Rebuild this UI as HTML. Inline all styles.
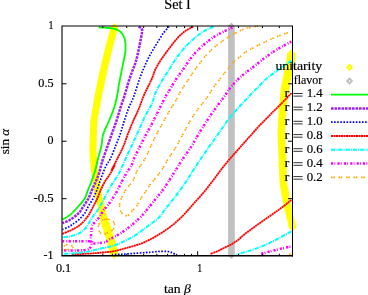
<!DOCTYPE html>
<html><head><meta charset="utf-8"><title>Set I</title>
<style>html,body{margin:0;padding:0;background:#fff}body{width:368px;height:295px;overflow:hidden}</style></head>
<body>
<svg width="368" height="295" viewBox="0 0 368 295" style="display:block;font-family:'Liberation Serif',serif;will-change:transform">
<style>text{stroke:#000;stroke-width:0.18px}</style>
<rect width="368" height="295" fill="#fff"/>
<path d="M114.6 23.2L118.4 27.0L118.1 28.0L117.8 29.0L117.6 30.0L117.3 31.0L117.0 32.0L116.7 33.0L116.5 34.0L116.2 35.0L115.9 36.0L115.6 37.0L115.4 38.0L115.1 39.0L114.8 40.0L114.5 41.0L114.3 42.0L114.0 43.0L113.7 44.0L113.4 45.0L113.2 46.0L112.9 47.0L112.7 48.0L112.4 49.0L112.2 50.0L112.0 51.0L111.7 52.0L111.5 53.0L111.2 54.0L111.0 55.0L110.8 56.0L110.5 57.0L110.3 58.0L110.1 59.0L109.8 60.0L109.6 61.0L109.4 62.0L109.1 63.0L108.9 64.0L108.7 65.0L108.4 66.0L108.2 67.0L107.9 68.0L107.7 69.0L107.5 70.0L107.2 71.0L107.0 72.0L106.8 73.0L106.6 74.0L106.4 75.0L106.2 76.0L106.0 77.0L105.8 78.0L105.5 79.0L105.3 80.0L105.1 81.0L104.9 82.0L104.7 83.0L104.5 84.0L104.3 85.0L104.1 86.0L103.9 87.0L103.7 88.0L103.5 89.0L103.2 90.0L103.0 91.0L102.8 92.0L102.6 93.0L102.4 94.0L102.1 95.0L101.9 96.0L101.7 97.0L101.5 98.0L101.4 99.0L101.2 100.0L101.0 101.0L100.8 102.0L100.6 103.0L100.4 104.0L100.2 105.0L100.0 106.0L99.9 107.0L99.7 108.0L99.5 109.0L99.3 110.0L99.1 111.0L98.9 112.0L98.7 113.0L98.5 114.0L98.4 115.0L98.2 116.0L98.0 117.0L97.8 118.0L97.7 119.0L97.5 120.0L97.3 121.0L97.3 122.0L97.2 123.1L97.2 124.1L97.2 125.1L97.1 126.2L97.1 127.2L97.1 128.2L97.0 129.3L97.0 130.3L97.0 131.3L97.0 132.3L96.9 133.4L96.9 134.4L96.9 135.4L96.8 136.5L96.8 137.5L96.8 138.5L96.7 139.6L96.7 140.6L96.7 141.6L96.6 142.7L96.6 143.7L96.6 144.7L96.6 145.8L96.5 146.8L96.5 147.9L96.5 148.9L96.5 149.9L96.4 151.0L96.4 152.0L96.5 153.0L96.6 154.0L96.6 155.0L96.7 156.0L96.8 157.0L96.9 158.0L96.9 159.0L97.0 160.0L97.1 161.0L97.2 162.0L97.3 163.0L97.3 164.0L97.4 165.0L97.5 166.0L97.6 167.0L97.6 168.0L97.7 169.0L97.8 170.0L98.0 171.1L98.2 172.1L98.4 173.2L98.6 174.2L98.8 175.3L99.0 176.3L99.2 177.4L99.4 178.4L99.6 179.5L99.8 180.5L100.0 181.6L100.1 182.6L100.2 183.7L100.3 184.7L100.4 185.8L100.5 186.8L100.6 187.8L100.7 188.9L100.8 189.9L101.0 190.9L101.2 192.0L101.4 193.0L101.7 194.1L101.9 195.1L102.1 196.1L102.3 197.2L102.5 198.2L102.8 199.2L103.0 200.3L103.3 201.3L103.6 202.3L103.9 203.4L104.1 204.4L104.4 205.5L104.8 206.5L105.0 207.6L105.2 208.6L105.5 209.7L105.7 210.8L106.0 211.9L106.2 212.9L106.5 214.0L106.8 215.0L107.1 215.9L107.5 216.9L107.8 217.9L108.1 218.8L108.4 219.8L108.8 220.8L109.1 221.7L109.4 222.7L109.8 223.7L110.1 224.6L110.4 225.6L110.7 226.6L111.0 227.6L111.3 228.5L111.6 229.5L111.9 230.5L112.2 231.5L112.5 232.4L112.8 233.4L113.2 234.4L113.5 235.4L113.8 236.3L114.1 237.3L114.4 238.3L114.7 239.3L115.0 240.2L115.3 241.2L115.6 242.2L115.8 243.2L116.1 244.2L116.3 245.3L116.6 246.3L116.8 247.3L117.0 248.3L117.3 249.4L117.5 250.4L117.8 251.4L118.0 252.4L118.3 253.5L118.5 254.5L114.2 258.8L109.9 254.5L109.7 253.5L109.4 252.4L109.2 251.4L108.9 250.4L108.7 249.4L108.5 248.3L108.2 247.3L108.0 246.3L107.7 245.3L107.5 244.2L107.2 243.2L107.0 242.2L106.7 241.2L106.4 240.2L106.1 239.3L105.8 238.3L105.5 237.3L105.2 236.3L104.9 235.4L104.6 234.4L104.2 233.4L103.9 232.4L103.6 231.5L103.3 230.5L103.0 229.5L102.7 228.5L102.4 227.6L102.1 226.6L101.8 225.6L101.5 224.6L101.3 223.7L101.0 222.7L100.8 221.7L100.5 220.8L100.3 219.8L100.0 218.8L99.8 217.9L99.5 216.9L99.2 215.9L99.0 215.0L98.7 214.0L98.6 212.9L98.4 211.9L98.3 210.8L98.1 209.7L97.9 208.6L97.8 207.6L97.6 206.5L97.4 205.5L97.1 204.4L96.9 203.4L96.6 202.3L96.3 201.3L96.0 200.3L95.8 199.2L95.5 198.2L95.3 197.2L95.1 196.1L94.9 195.1L94.7 194.1L94.4 193.0L94.2 192.0L94.0 190.9L93.8 189.9L93.7 188.9L93.6 187.8L93.5 186.8L93.4 185.8L93.3 184.7L93.2 183.7L93.1 182.6L93.0 181.6L92.8 180.5L92.6 179.5L92.4 178.4L92.2 177.4L92.0 176.3L91.8 175.3L91.6 174.2L91.4 173.2L91.2 172.1L91.0 171.1L90.8 170.0L90.7 169.0L90.6 168.0L90.6 167.0L90.5 166.0L90.4 165.0L90.3 164.0L90.3 163.0L90.2 162.0L90.1 161.0L90.0 160.0L89.9 159.0L89.9 158.0L89.8 157.0L89.7 156.0L89.6 155.0L89.6 154.0L89.5 153.0L89.4 152.0L89.4 151.0L89.5 149.9L89.5 148.9L89.5 147.9L89.5 146.8L89.6 145.8L89.6 144.7L89.6 143.7L89.6 142.7L89.7 141.6L89.7 140.6L89.7 139.6L89.8 138.5L89.8 137.5L89.8 136.5L89.9 135.4L89.9 134.4L89.9 133.4L90.0 132.3L90.0 131.3L90.0 130.3L90.0 129.3L90.1 128.2L90.1 127.2L90.1 126.2L90.2 125.1L90.2 124.1L90.2 123.1L90.3 122.0L90.3 121.0L90.5 120.0L90.7 119.0L90.8 118.0L91.0 117.0L91.2 116.0L91.4 115.0L91.5 114.0L91.7 113.0L91.8 112.0L92.0 111.0L92.2 110.0L92.3 109.0L92.5 108.0L92.7 107.0L92.8 106.0L93.0 105.0L93.2 104.0L93.3 103.0L93.5 102.0L93.7 101.0L93.8 100.0L94.0 99.0L94.1 98.0L94.3 97.0L94.5 96.0L94.7 95.0L94.9 94.0L95.1 93.0L95.3 92.0L95.5 91.0L95.7 90.0L95.9 89.0L96.1 88.0L96.3 87.0L96.5 86.0L96.7 85.0L96.9 84.0L97.1 83.0L97.3 82.0L97.5 81.0L97.7 80.0L97.9 79.0L98.2 78.0L98.4 77.0L98.6 76.0L98.8 75.0L99.0 74.0L99.2 73.0L99.4 72.0L99.6 71.0L99.9 70.0L100.1 69.0L100.3 68.0L100.6 67.0L100.8 66.0L101.1 65.0L101.3 64.0L101.5 63.0L101.8 62.0L102.0 61.0L102.2 60.0L102.5 59.0L102.7 58.0L102.9 57.0L103.2 56.0L103.4 55.0L103.6 54.0L103.9 53.0L104.1 52.0L104.4 51.0L104.6 50.0L104.8 49.0L105.1 48.0L105.3 47.0L105.6 46.0L105.8 45.0L106.1 44.0L106.4 43.0L106.7 42.0L107.0 41.0L107.2 40.0L107.5 39.0L107.8 38.0L108.0 37.0L108.3 36.0L108.6 35.0L108.9 34.0L109.1 33.0L109.4 32.0L109.7 31.0L110.0 30.0L110.2 29.0L110.5 28.0L110.8 27.0Z" fill="#ffff00"/>
<path d="M291.4 49.2L295.7 53.5L295.6 54.5L295.5 55.5L295.4 56.5L295.3 57.6L295.2 58.6L295.1 59.6L294.9 60.6L294.7 61.7L294.5 62.7L294.3 63.7L294.1 64.8L293.9 65.8L293.6 66.8L293.4 67.9L293.2 68.9L293.0 69.9L292.8 71.0L292.6 72.0L292.4 73.1L292.2 74.1L292.0 75.2L291.8 76.2L291.6 77.3L291.4 78.3L291.1 79.4L290.9 80.5L290.7 81.5L290.5 82.6L290.3 83.6L290.1 84.7L289.9 85.7L289.8 86.8L289.6 87.8L289.5 88.8L289.3 89.8L289.1 90.9L288.9 91.9L288.7 92.9L288.5 93.9L288.3 95.0L288.1 96.0L287.9 97.0L287.8 98.1L287.6 99.1L287.4 100.2L287.3 101.2L287.2 102.2L287.0 103.3L286.9 104.3L286.8 105.4L286.7 106.4L286.5 107.5L286.4 108.5L286.3 109.5L286.3 110.6L286.2 111.6L286.1 112.7L286.1 113.7L286.0 114.8L285.9 115.8L285.9 116.8L285.8 117.9L285.7 118.9L285.7 120.0L285.6 121.0L285.6 122.0L285.5 123.1L285.5 124.2L285.4 125.2L285.4 126.2L285.4 127.3L285.3 128.3L285.3 129.4L285.2 130.4L285.2 131.5L285.1 132.5L285.1 133.6L285.1 134.6L285.2 135.7L285.2 136.7L285.3 137.7L285.3 138.8L285.4 139.8L285.4 140.8L285.4 141.9L285.5 142.9L285.5 143.9L285.6 145.0L285.6 146.0L285.7 147.1L285.7 148.1L285.8 149.2L285.9 150.2L285.9 151.3L286.0 152.3L286.1 153.4L286.1 154.5L286.2 155.5L286.3 156.6L286.3 157.6L286.4 158.7L286.4 159.7L286.4 160.8L286.5 161.8L286.5 162.8L286.5 163.8L286.5 164.9L286.5 165.9L286.5 166.9L286.6 167.9L286.6 169.0L286.6 170.0L286.6 171.0L286.7 172.1L286.7 173.1L286.8 174.2L286.8 175.2L286.9 176.2L286.9 177.3L286.9 178.3L287.0 179.4L287.0 180.4L287.1 181.5L287.1 182.5L287.3 183.5L287.4 184.6L287.6 185.6L287.8 186.7L288.0 187.7L288.2 188.8L288.3 189.8L288.5 190.8L288.7 191.9L288.8 192.9L289.0 194.0L289.2 195.0L289.4 196.1L289.6 197.1L289.8 198.2L290.0 199.2L290.2 200.2L290.4 201.3L290.7 202.3L290.9 203.4L291.1 204.4L291.3 205.5L291.5 206.5L291.7 207.6L291.9 208.6L292.2 209.7L292.4 210.7L292.7 211.7L292.9 212.8L293.2 213.8L293.4 214.8L293.7 215.9L293.9 216.9L294.2 217.9L294.4 219.0L294.7 220.0L294.9 221.1L295.2 222.1L295.4 223.2L295.6 224.3L295.8 225.4L296.1 226.4L296.3 227.5L292.5 231.3L288.7 227.5L288.5 226.4L288.2 225.4L288.0 224.3L287.8 223.2L287.6 222.1L287.3 221.1L287.1 220.0L286.8 219.0L286.6 217.9L286.3 216.9L286.1 215.9L285.8 214.8L285.6 213.8L285.3 212.8L285.1 211.7L284.8 210.7L284.6 209.7L284.3 208.6L284.1 207.6L283.9 206.5L283.7 205.5L283.5 204.4L283.3 203.4L283.1 202.3L282.8 201.3L282.6 200.2L282.4 199.2L282.2 198.2L282.0 197.1L281.8 196.1L281.6 195.0L281.4 194.0L281.2 192.9L281.1 191.9L280.9 190.8L280.7 189.8L280.6 188.8L280.4 187.7L280.2 186.7L280.0 185.6L279.8 184.6L279.7 183.5L279.5 182.5L279.5 181.5L279.4 180.4L279.4 179.4L279.3 178.3L279.3 177.3L279.2 176.2L279.2 175.2L279.2 174.2L279.1 173.1L279.1 172.1L279.0 171.0L279.0 170.0L279.0 169.0L279.0 167.9L278.9 166.9L278.9 165.9L278.9 164.9L278.9 163.8L278.9 162.8L278.9 161.8L278.8 160.8L278.8 159.7L278.8 158.7L278.7 157.6L278.7 156.6L278.6 155.5L278.5 154.5L278.5 153.4L278.4 152.3L278.3 151.3L278.3 150.2L278.2 149.2L278.1 148.1L278.1 147.1L278.0 146.0L278.0 145.0L277.9 143.9L277.9 142.9L277.8 141.9L277.8 140.8L277.8 139.8L277.7 138.8L277.7 137.7L277.6 136.7L277.6 135.7L277.5 134.6L277.5 133.6L277.5 132.5L277.6 131.5L277.6 130.4L277.7 129.4L277.7 128.3L277.8 127.3L277.8 126.2L277.8 125.2L277.9 124.2L277.9 123.1L278.0 122.0L278.0 121.0L278.1 120.0L278.1 118.9L278.2 117.9L278.3 116.8L278.3 115.8L278.4 114.8L278.5 113.7L278.5 112.7L278.6 111.6L278.7 110.6L278.7 109.5L278.8 108.5L278.9 107.5L279.1 106.4L279.2 105.4L279.3 104.3L279.4 103.3L279.6 102.2L279.7 101.2L279.8 100.2L279.9 99.1L280.0 98.1L280.0 97.0L280.1 96.0L280.2 95.0L280.3 93.9L280.4 92.9L280.5 91.9L280.6 90.9L280.7 89.8L280.9 88.8L281.0 87.8L281.2 86.8L281.3 85.7L281.5 84.7L281.7 83.6L281.9 82.6L282.1 81.5L282.3 80.5L282.5 79.4L282.8 78.3L283.0 77.3L283.2 76.2L283.4 75.2L283.6 74.1L283.8 73.1L284.0 72.0L284.2 71.0L284.4 69.9L284.6 68.9L284.8 67.9L285.0 66.8L285.2 65.8L285.5 64.8L285.7 63.7L285.9 62.7L286.1 61.7L286.3 60.6L286.5 59.6L286.6 58.6L286.7 57.6L286.8 56.5L286.9 55.5L287.0 54.5L287.1 53.5Z" fill="#ffff00"/>
<path d="M231.45 22.6L234.8 26V255.5L231.45 259L228.1 255.5V26Z" fill="#c0c0c0"/>
<path d="M98.6 27.3C99.5 27.4 102.3 27.5 104.0 27.6C105.7 27.7 106.8 27.7 108.8 28.0C110.8 28.3 114.1 28.6 116.2 29.3C118.3 30.0 119.8 30.9 121.2 32.4C122.6 33.9 123.7 35.8 124.4 38.0C125.1 40.2 125.5 43.0 125.6 45.5C125.7 48.0 125.5 50.6 125.2 53.0C124.9 55.4 124.5 56.4 123.9 59.6C123.3 62.8 122.2 67.9 121.4 72.1C120.6 76.3 119.6 80.7 118.9 84.7C118.2 88.7 117.9 92.0 117.1 96.0C116.3 100.0 115.3 104.3 113.9 108.5C112.5 112.7 110.7 116.6 108.9 121.0C107.1 125.4 104.3 130.6 103.1 134.8C101.8 139.0 102.2 142.0 101.4 146.0C100.6 150.0 99.0 154.7 98.0 158.7C97.0 162.7 96.4 166.2 95.3 170.0C94.2 173.8 92.7 178.3 91.5 181.6C90.3 184.9 89.1 187.1 88.0 189.9C86.9 192.7 86.6 195.3 84.9 198.2C83.2 201.0 80.3 204.2 77.8 207.0C75.3 209.8 72.5 212.8 70.0 214.9C67.5 217.0 63.8 218.8 62.5 219.6" fill="none" stroke="#00ff00" stroke-width="1.8"/>
<path d="M138.7 26.5C139.2 27.0 141.6 27.8 142.0 29.5C142.4 31.2 141.8 33.6 141.2 37.0C140.6 40.4 139.6 45.4 138.7 49.6C137.8 53.8 136.8 58.4 135.7 62.1C134.6 65.8 133.2 68.3 131.9 72.1C130.6 75.9 128.9 80.7 127.7 84.7C126.5 88.7 125.7 92.0 124.4 96.0C123.2 100.0 121.5 104.3 120.2 108.5C118.9 112.7 117.8 116.8 116.4 121.0C115.0 125.2 113.4 129.4 111.9 133.6C110.4 137.8 109.1 141.8 107.6 146.0C106.1 150.2 104.2 155.5 103.1 158.7C102.0 161.9 101.9 162.6 101.2 165.0C100.5 167.4 99.9 170.5 99.0 173.3C98.1 176.1 97.0 178.8 95.8 181.6C94.6 184.4 93.2 187.1 92.0 189.9C90.8 192.7 90.0 195.4 88.6 198.2C87.1 201.0 85.0 203.9 83.3 206.5C81.6 209.1 80.5 211.3 78.3 213.5C76.1 215.7 72.6 218.2 70.0 219.8C67.4 221.4 63.8 222.6 62.5 223.1" fill="none" stroke="#a020f0" stroke-width="2.5" stroke-dasharray="2.6 0.9"/>
<path d="M169.0 26.5C168.1 27.6 165.3 30.5 163.3 33.3C161.3 36.1 158.9 40.3 157.0 43.3C155.1 46.3 153.8 48.4 152.0 51.5C150.2 54.6 148.5 57.8 146.5 62.1C144.5 66.4 142.3 71.4 140.2 77.1C138.1 82.8 135.8 90.8 133.9 96.0C132.0 101.2 130.1 104.3 128.5 108.5C126.9 112.7 125.6 116.8 124.2 121.0C122.8 125.2 121.8 129.4 120.4 133.6C119.0 137.8 117.3 141.8 115.6 146.0C113.9 150.2 111.9 155.5 110.4 158.7C108.9 161.9 107.8 162.6 106.5 165.0C105.2 167.4 104.0 170.5 102.9 173.3C101.8 176.1 100.9 178.8 99.9 181.6C98.9 184.4 98.0 187.1 96.9 189.9C95.8 192.7 94.7 195.4 93.2 198.2C91.8 201.0 89.7 203.9 88.2 206.5C86.8 209.1 86.1 211.2 84.5 213.5C82.9 215.8 80.6 218.2 78.5 220.0C76.4 221.8 73.7 223.4 72.0 224.6C70.3 225.8 69.9 226.3 68.3 227.1C66.7 227.9 63.5 229.1 62.5 229.5" fill="none" stroke="#0000ff" stroke-width="1.7" stroke-dasharray="1.6 1.5"/>
<path d="M111.8 254.5C113.2 254.5 117.0 254.5 120.5 254.3C124.0 254.1 128.8 253.8 133.0 253.5C137.2 253.2 142.0 252.8 145.5 252.6C149.0 252.3 151.6 252.2 153.9 252.0C156.2 251.8 157.3 251.5 159.5 251.4C161.7 251.3 164.9 251.2 167.0 251.4C169.1 251.6 170.5 252.0 172.0 252.6C173.5 253.2 175.2 254.5 175.8 254.9" fill="none" stroke="#0000ff" stroke-width="1.7" stroke-dasharray="1.6 1.5"/>
<path d="M193.2 26.6C191.8 27.4 187.3 29.5 184.6 31.5C181.9 33.5 179.6 35.8 177.1 38.5C174.6 41.2 172.0 44.7 169.5 48.0C167.0 51.3 164.3 54.9 162.0 58.3C159.7 61.7 157.4 65.2 155.8 68.4C154.2 71.6 153.8 74.2 152.4 77.5C151.0 80.8 148.7 85.3 147.2 88.4C145.7 91.5 145.0 92.7 143.6 96.0C142.2 99.3 140.6 104.3 138.9 108.5C137.2 112.7 135.0 116.8 133.2 121.0C131.4 125.2 129.6 129.4 128.0 133.6C126.4 137.8 125.1 142.1 123.5 146.0C121.9 149.9 120.2 153.0 118.2 157.0C116.2 161.0 112.2 168.6 111.6 170.0C111.0 171.4 114.8 164.9 114.6 165.5C114.4 166.1 112.1 170.6 110.5 173.3C108.9 176.0 106.5 178.8 104.9 181.6C103.3 184.4 102.0 187.1 100.7 189.9C99.5 192.7 98.7 195.4 97.4 198.2C96.2 201.0 94.6 203.8 93.2 206.5C91.8 209.2 90.5 212.1 89.0 214.5C87.5 216.9 85.6 219.2 84.0 221.0C82.4 222.8 81.1 224.1 79.5 225.3C77.9 226.5 76.2 227.5 74.5 228.4C72.8 229.3 71.5 230.0 69.5 230.9C67.5 231.8 63.7 233.3 62.5 233.8" fill="none" stroke="#ff0000" stroke-width="1.8" stroke-dasharray="2.1 0.4"/>
<path d="M291.5 93.2C289.6 95.1 283.7 101.2 280.1 104.8C276.5 108.4 273.4 111.4 270.1 114.8C266.8 118.2 263.4 121.4 260.1 124.9C256.8 128.5 253.4 132.3 250.1 136.1C246.8 139.8 243.3 143.6 240.0 147.4C236.7 151.2 233.2 155.0 230.0 158.7C226.8 162.4 223.8 166.2 221.0 169.8C218.2 173.4 216.1 176.4 213.4 180.0C210.7 183.6 207.7 187.5 204.6 191.3C201.5 195.1 197.9 198.8 194.6 202.6C191.3 206.4 187.4 210.9 184.6 213.9C181.8 216.9 179.7 218.8 177.5 220.8C175.3 222.8 173.4 224.4 171.3 226.0C169.2 227.6 167.1 229.2 165.0 230.6C162.9 232.0 160.9 233.3 158.8 234.6C156.7 235.9 154.6 237.1 152.5 238.2C150.4 239.3 148.4 240.3 146.3 241.3C144.2 242.3 142.2 243.2 140.0 244.0C137.8 244.8 135.2 245.5 133.0 246.2C130.8 246.8 128.9 247.3 126.8 247.9C124.7 248.5 122.6 249.1 120.5 249.6C118.4 250.1 116.4 250.8 114.3 251.2C112.2 251.6 110.0 251.8 108.0 252.0C106.0 252.2 104.5 252.3 102.0 252.5C99.5 252.7 96.8 253.1 93.3 253.3C89.8 253.6 84.4 253.8 80.8 254.0C77.2 254.2 73.0 254.2 71.4 254.2" fill="none" stroke="#ff0000" stroke-width="1.8" stroke-dasharray="2.1 0.4"/>
<path d="M291.4 200.0C289.5 201.5 284.1 205.9 280.1 208.8C276.1 211.7 271.8 214.7 267.6 217.6C263.4 220.5 259.0 223.6 255.1 226.4C251.2 229.2 246.8 232.5 244.0 234.7C241.2 236.9 240.5 238.1 238.5 239.6C236.5 241.1 234.5 242.6 232.2 243.9C229.9 245.2 227.2 246.3 224.7 247.6C222.2 248.8 219.6 250.3 217.2 251.4C214.8 252.5 211.3 253.5 210.1 253.9" fill="none" stroke="#ff0000" stroke-width="1.8" stroke-dasharray="2.1 0.4"/>
<path d="M213.4 26.5C211.9 27.2 207.5 29.1 204.6 30.8C201.7 32.5 198.9 34.5 195.9 37.0C192.9 39.5 189.6 42.4 186.4 45.8C183.2 49.1 179.8 53.3 177.0 57.1C174.2 60.9 172.2 64.7 169.8 68.4C167.4 72.2 164.9 75.6 162.6 79.6C160.3 83.6 157.6 88.2 155.8 92.2C154.0 96.2 153.8 99.5 152.0 103.5C150.2 107.5 147.3 111.8 145.2 116.0C143.1 120.2 141.4 124.4 139.5 128.6C137.6 132.8 135.8 136.8 133.9 141.0C132.0 145.2 130.1 148.8 127.9 153.6C125.7 158.4 122.5 166.0 120.6 170.0C118.7 174.0 118.0 175.0 116.5 177.5C115.0 180.0 113.2 182.2 111.5 184.9C109.8 187.7 108.0 191.1 106.5 194.0C105.0 196.9 103.7 199.8 102.4 202.3C101.1 204.8 99.9 206.9 98.5 209.0C97.1 211.1 95.3 212.9 94.0 214.8C92.7 216.7 91.6 218.5 90.5 220.3C89.4 222.1 88.5 224.0 87.6 225.4C86.7 226.8 86.2 227.5 85.1 228.6C84.0 229.8 82.3 231.3 80.8 232.3C79.2 233.3 77.7 233.9 75.8 234.6C73.9 235.3 71.7 236.1 69.5 236.5C67.3 236.9 63.7 237.1 62.5 237.2" fill="none" stroke="#00ffff" stroke-width="2" stroke-dasharray="4.3 1 1 1"/>
<path d="M291.4 60.7C290.3 61.5 287.3 63.6 285.0 65.2C282.7 66.8 280.5 68.2 277.6 70.3C274.7 72.4 270.9 74.9 267.6 77.8C264.3 80.7 260.7 84.4 257.6 87.5C254.5 90.6 251.7 93.5 248.8 96.6C245.9 99.7 243.1 102.5 240.0 106.0C236.9 109.5 232.1 114.8 230.0 117.3C227.9 119.8 229.1 118.3 227.2 121.0C225.3 123.7 221.3 129.4 218.4 133.6C215.5 137.8 212.5 141.8 209.6 146.0C206.7 150.2 203.6 154.7 200.9 158.7C198.2 162.7 195.7 166.4 193.4 170.0C191.1 173.6 189.6 176.2 187.1 180.0C184.6 183.8 181.2 188.6 178.3 192.6C175.4 196.6 171.9 200.8 169.5 203.8C167.1 206.8 165.8 208.4 164.1 210.7C162.4 212.9 161.1 215.3 159.2 217.3C157.3 219.3 154.2 221.6 152.5 222.8C150.8 224.1 150.5 224.0 149.3 224.8C148.1 225.7 147.2 226.7 145.5 227.9C143.8 229.2 141.4 230.8 139.3 232.3C137.2 233.8 135.1 235.5 133.0 236.7C130.9 238.0 128.9 238.8 126.8 239.8C124.7 240.8 122.6 242.0 120.5 242.9C118.4 243.8 116.4 244.7 114.3 245.4C112.2 246.1 110.0 246.6 108.0 247.1C106.0 247.6 104.2 247.8 102.0 248.3C99.8 248.8 97.0 249.4 94.5 250.0C92.0 250.6 90.3 251.2 87.0 251.7C83.7 252.3 78.6 253.0 74.5 253.3C70.4 253.7 64.5 253.7 62.5 253.8" fill="none" stroke="#00ffff" stroke-width="2" stroke-dasharray="4.3 1 1 1"/>
<path d="M291.4 231.3C289.5 232.4 284.1 235.5 280.1 237.6C276.1 239.7 271.8 242.0 267.6 243.9C263.4 245.8 258.9 247.5 255.1 248.9C251.3 250.3 248.1 251.2 245.0 252.1C241.9 253.0 237.8 254.2 236.3 254.6" fill="none" stroke="#00ffff" stroke-width="2" stroke-dasharray="4.3 1 1 1"/>
<path d="M232.5 27.3C230.4 28.4 223.5 31.5 219.7 33.6C215.9 35.7 212.9 37.5 209.6 40.0C206.2 42.5 202.7 45.5 199.6 48.5C196.5 51.5 193.5 54.8 190.8 58.2C188.1 61.7 185.8 65.6 183.3 69.2C180.8 72.8 178.3 75.8 175.8 79.6C173.3 83.4 170.0 89.5 168.3 92.2C166.6 94.9 167.1 93.7 165.8 96.0C164.6 98.3 162.5 102.7 160.8 106.0C159.1 109.3 157.3 113.1 155.8 116.0C154.3 118.9 153.6 120.7 152.0 123.6C150.4 126.5 148.5 129.9 146.5 133.6C144.5 137.3 142.3 141.8 140.2 146.0C138.1 150.2 135.3 155.5 133.9 158.7C132.5 161.9 132.9 162.7 131.7 165.0C130.5 167.3 128.4 169.7 126.8 172.5C125.2 175.3 123.5 178.4 121.8 181.6C120.1 184.8 118.6 188.4 116.8 191.6C115.0 194.8 112.8 198.2 111.0 200.8C109.2 203.4 107.2 205.9 106.0 207.4C104.8 208.9 104.5 208.4 103.5 209.9C102.5 211.4 101.3 214.5 99.9 216.5C98.5 218.5 96.3 220.3 95.0 221.9C93.7 223.5 92.6 224.3 92.0 225.9C91.4 227.5 91.6 229.7 91.4 231.5C91.2 233.3 91.1 235.0 91.0 236.5C90.9 238.0 90.5 239.0 90.6 240.3C90.7 241.7 91.5 243.3 91.4 244.6C91.3 245.8 90.8 247.0 90.1 247.8C89.4 248.6 88.5 249.2 87.0 249.6C85.5 250.0 82.9 250.2 80.8 250.3C78.7 250.5 76.6 250.5 74.5 250.5C72.4 250.5 70.3 250.5 68.3 250.5C66.3 250.5 63.5 250.3 62.5 250.3" fill="none" stroke="#ff00ff" stroke-width="2.5" stroke-dasharray="2.2 1.2 0.9 2.1"/>
<path d="M291.4 41.6C290.1 42.3 286.6 44.1 283.9 45.6C281.2 47.1 278.1 48.8 275.0 50.8C271.9 52.8 268.3 55.1 265.0 57.6C261.7 60.1 258.3 63.0 255.0 65.6C251.7 68.2 247.9 70.8 245.0 73.2C242.1 75.6 240.0 77.4 237.5 79.9C235.0 82.4 232.1 85.5 230.0 88.2C227.9 90.9 226.8 93.0 224.7 96.0C222.6 99.0 219.9 102.2 217.2 106.0C214.5 109.8 211.3 114.2 208.4 118.6C205.5 123.0 202.5 127.5 199.6 132.3C196.7 137.1 193.7 142.8 190.8 147.4C187.9 152.0 184.6 156.1 182.1 159.9C179.6 163.7 177.9 166.7 175.8 170.0C173.7 173.3 171.8 176.4 169.5 180.0C167.2 183.6 164.0 188.5 162.0 191.3C160.0 194.1 159.2 194.5 157.5 196.6C155.8 198.7 153.4 201.9 151.7 204.0C150.0 206.1 148.9 207.3 147.5 209.0C146.1 210.7 145.1 212.2 143.4 214.0C141.8 215.8 139.5 218.0 137.6 219.8C135.7 221.7 133.6 223.6 131.8 225.1C130.0 226.6 128.7 227.5 126.8 228.9C124.9 230.3 122.6 232.0 120.5 233.3C118.4 234.7 116.4 235.9 114.3 237.0C112.2 238.1 109.4 239.3 108.0 240.1C106.6 240.9 107.2 241.5 105.8 242.0C104.4 242.5 101.6 242.8 99.5 243.0C97.4 243.2 94.8 243.6 93.3 243.3C91.8 243.0 93.4 241.6 90.6 241.3C87.8 241.0 81.3 241.3 76.6 241.3C71.9 241.3 64.8 241.3 62.5 241.3" fill="none" stroke="#ff00ff" stroke-width="2.5" stroke-dasharray="2.2 1.2 0.9 2.1"/>
<path d="M261.3 253.9C262.8 253.5 267.0 252.2 270.1 251.4C273.2 250.6 276.6 249.7 280.1 248.9C283.7 248.1 289.5 246.8 291.4 246.4" fill="none" stroke="#ff00ff" stroke-width="2.5" stroke-dasharray="2.2 1.2 0.9 2.1"/>
<path d="M258.0 26.5C257.5 26.5 257.2 26.3 255.0 26.7C252.8 27.1 248.3 27.6 245.0 28.7C241.7 29.8 238.4 31.5 235.0 33.3C231.6 35.1 228.1 37.2 224.7 39.5C221.3 41.8 218.0 44.1 214.7 47.0C211.3 49.9 207.7 53.5 204.6 57.1C201.5 60.7 198.6 64.7 195.9 68.4C193.2 72.2 190.8 75.8 188.3 79.6C185.8 83.3 182.7 87.8 180.8 90.9C178.9 94.1 178.8 95.6 177.1 98.5C175.4 101.4 172.9 105.0 170.8 108.5C168.7 112.0 166.6 116.0 164.5 119.8C162.4 123.6 160.4 127.1 158.3 131.1C156.2 135.1 154.0 139.4 152.0 143.6C150.0 147.8 148.3 152.4 146.5 156.0C144.7 159.6 142.5 162.4 140.9 165.0C139.3 167.6 138.1 168.8 136.7 171.6C135.3 174.4 134.2 178.8 132.6 181.6C130.9 184.4 128.5 186.0 126.8 188.3C125.1 190.7 123.7 193.5 122.6 195.7C121.5 197.9 120.6 199.6 120.1 201.5C119.6 203.4 119.4 205.7 119.6 207.4C119.8 209.2 120.4 210.8 121.0 212.0C121.6 213.2 122.6 213.9 123.4 214.5C124.2 215.1 125.0 215.5 125.9 215.6C126.8 215.7 127.8 215.6 128.6 215.0C129.4 214.4 129.6 213.6 131.0 212.0C132.4 210.4 135.4 207.7 136.9 205.7C138.4 203.7 138.9 201.7 140.0 199.9C141.1 198.1 142.1 196.8 143.4 194.9C144.7 193.0 146.5 190.2 147.7 188.3C148.9 186.5 149.3 185.6 150.7 183.8C152.1 182.0 154.2 179.9 156.1 177.5C158.0 175.1 160.0 172.6 162.0 169.5C164.0 166.4 166.0 162.4 168.3 158.7C170.6 155.0 173.3 151.6 175.8 147.4C178.3 143.2 180.8 138.2 183.3 133.6C185.8 129.0 188.3 124.0 190.8 119.8C193.3 115.6 195.8 112.0 198.4 108.5C201.0 105.0 203.9 101.8 206.3 98.5C208.7 95.2 210.6 91.8 212.9 88.4C215.2 85.1 217.8 81.7 220.4 78.4C223.0 75.1 226.0 71.3 228.4 68.4C230.8 65.5 232.8 62.7 234.7 60.8C236.6 58.9 238.3 58.2 240.0 56.8C241.7 55.4 243.3 53.7 245.0 52.5C246.7 51.3 247.5 51.0 250.0 49.6C252.5 48.2 256.7 46.0 260.0 44.3C263.3 42.6 266.7 41.1 270.0 39.6C273.3 38.1 276.4 36.9 280.0 35.5C283.6 34.1 289.5 32.1 291.4 31.4" fill="none" stroke="#ffa500" stroke-width="1.6" stroke-dasharray="1.6 0.7 1.6 3.6"/>
<path d="M106.0 219.0C106.7 219.1 108.8 219.1 110.0 219.5C111.2 219.9 112.4 220.6 113.2 221.5C114.0 222.4 114.6 223.9 114.8 225.0C115.0 226.1 114.8 227.1 114.3 228.0C113.8 228.9 112.9 229.8 112.0 230.5C111.1 231.2 110.0 231.5 109.0 232.0C108.0 232.5 107.0 233.1 106.0 233.5C105.0 233.9 103.9 234.7 103.0 234.6C102.1 234.5 101.2 233.8 100.5 233.0C99.8 232.2 99.1 231.1 98.8 230.0C98.5 228.9 98.3 227.7 98.4 226.5C98.5 225.3 98.9 224.1 99.5 223.0C100.1 221.9 100.9 220.9 102.0 220.2C103.1 219.5 105.3 219.2 106.0 219.0" fill="none" stroke="#ffa500" stroke-width="1.6" stroke-dasharray="1.6 0.7 1.6 3.6"/>
<path d="M64.0 246.0C64.5 245.8 65.8 244.8 67.0 244.7C68.2 244.6 70.0 245.1 71.0 245.5C72.0 245.9 72.9 246.5 73.0 247.0C73.1 247.5 72.4 248.3 71.5 248.7C70.6 249.1 68.7 249.4 67.5 249.5C66.3 249.6 65.2 249.3 64.5 249.0C63.8 248.7 63.3 248.0 63.2 247.5C63.1 247.0 63.9 246.2 64.0 246.0" fill="none" stroke="#ffa500" stroke-width="1.6" stroke-dasharray="1.6 0.7 1.6 3.6"/>
<path d="M289.0 254.5 L291.5 253.5" fill="none" stroke="#ffa500" stroke-width="1.6" stroke-dasharray="1.6 0.7 1.6 3.6"/>
<path d="M62 25.5V255.8M62 26.05H292.5" fill="none" stroke="#000" stroke-width="1.1"/>
<path d="M292.5 25.55V256.5" fill="none" stroke="#000" stroke-width="1"/>
<path d="M61.45 255.75H293" fill="none" stroke="#000" stroke-width="1.5"/>
<path d="M62 83.79h4.5M292.5 83.79h-4.5M62 141.23h4.5M292.5 141.23h-4.5M62 198.66h4.5M292.5 198.66h-4.5M197.67 255.8v-4.5M197.67 26.05v4.5M102.84 255.8v-2M102.84 26.05v2M126.73 255.8v-2M126.73 26.05v2M143.68 255.8v-2M143.68 26.05v2M156.83 255.8v-2M156.83 26.05v2M167.57 255.8v-2M167.57 26.05v2M176.65 255.8v-2M176.65 26.05v2M184.52 255.8v-2M184.52 26.05v2M191.46 255.8v-2M191.46 26.05v2M238.51 255.8v-2M238.51 26.05v2M262.40 255.8v-2M262.40 26.05v2M279.35 255.8v-2M279.35 26.05v2" fill="none" stroke="#000" stroke-width="1"/>
<text x="164.3" y="8.8" font-size="13.6" text-anchor="start" textLength="26.4" lengthAdjust="spacingAndGlyphs">Set I</text>
<text x="48.6" y="29.25" font-size="13" text-anchor="start" textLength="5" lengthAdjust="spacingAndGlyphs">1</text>
<text x="38.3" y="86.6875" font-size="13" text-anchor="start" textLength="15.3" lengthAdjust="spacingAndGlyphs">0.5</text>
<text x="47.6" y="144.125" font-size="13" text-anchor="start" textLength="6" lengthAdjust="spacingAndGlyphs">0</text>
<text x="33.4" y="201.562" font-size="13" text-anchor="start" textLength="20.2" lengthAdjust="spacingAndGlyphs">-0.5</text>
<text x="43.6" y="259" font-size="13" text-anchor="start" textLength="10" lengthAdjust="spacingAndGlyphs">-1</text>
<text x="55.9" y="272.4" font-size="13" text-anchor="start" textLength="15.3" lengthAdjust="spacingAndGlyphs">0.1</text>
<text x="197.3" y="272.4" font-size="13" text-anchor="start" textLength="5" lengthAdjust="spacingAndGlyphs">1</text>
<text x="163.9" y="292.6" font-size="13" text-anchor="start" textLength="27" lengthAdjust="spacingAndGlyphs">tan <tspan font-style="italic">β</tspan></text>
<text transform="translate(9 154.3) rotate(-90)" font-size="13" textLength="25.5" lengthAdjust="spacingAndGlyphs">sin <tspan font-style="italic">α</tspan></text>
<text x="275.4" y="70.3" font-size="13" text-anchor="start" textLength="46.8" lengthAdjust="spacingAndGlyphs">unitarity</text>
<text x="293.7" y="83.6" font-size="13" text-anchor="start" textLength="28.5" lengthAdjust="spacingAndGlyphs">flavor</text>
<text x="284.4" y="97.4" font-size="13" text-anchor="start" textLength="4.8" lengthAdjust="spacingAndGlyphs">r</text>
<path d="M293.4 93.50h9.2M293.4 96.10h9.2" stroke="#000" stroke-width="0.8" fill="none"/>
<text x="306.7" y="97.4" font-size="13" text-anchor="start" textLength="16" lengthAdjust="spacingAndGlyphs">1.4</text>
<text x="284.4" y="111.1" font-size="13" text-anchor="start" textLength="4.8" lengthAdjust="spacingAndGlyphs">r</text>
<path d="M293.4 107.20h9.2M293.4 109.80h9.2" stroke="#000" stroke-width="0.8" fill="none"/>
<text x="306.7" y="111.1" font-size="13" text-anchor="start" textLength="16" lengthAdjust="spacingAndGlyphs">1.2</text>
<text x="284.4" y="125.2" font-size="13" text-anchor="start" textLength="4.8" lengthAdjust="spacingAndGlyphs">r</text>
<path d="M293.4 121.30h9.2M293.4 123.90h9.2" stroke="#000" stroke-width="0.8" fill="none"/>
<text x="306.7" y="125.2" font-size="13" text-anchor="start" textLength="16" lengthAdjust="spacingAndGlyphs">1.0</text>
<text x="284.4" y="138.5" font-size="13" text-anchor="start" textLength="4.8" lengthAdjust="spacingAndGlyphs">r</text>
<path d="M293.4 134.60h9.2M293.4 137.20h9.2" stroke="#000" stroke-width="0.8" fill="none"/>
<text x="306.7" y="138.5" font-size="13" text-anchor="start" textLength="16" lengthAdjust="spacingAndGlyphs">0.8</text>
<text x="284.4" y="152.6" font-size="13" text-anchor="start" textLength="4.8" lengthAdjust="spacingAndGlyphs">r</text>
<path d="M293.4 148.70h9.2M293.4 151.30h9.2" stroke="#000" stroke-width="0.8" fill="none"/>
<text x="306.7" y="152.6" font-size="13" text-anchor="start" textLength="16" lengthAdjust="spacingAndGlyphs">0.6</text>
<text x="284.4" y="166.6" font-size="13" text-anchor="start" textLength="4.8" lengthAdjust="spacingAndGlyphs">r</text>
<path d="M293.4 162.70h9.2M293.4 165.30h9.2" stroke="#000" stroke-width="0.8" fill="none"/>
<text x="306.7" y="166.6" font-size="13" text-anchor="start" textLength="16" lengthAdjust="spacingAndGlyphs">0.4</text>
<text x="284.4" y="180.5" font-size="13" text-anchor="start" textLength="4.8" lengthAdjust="spacingAndGlyphs">r</text>
<path d="M293.4 176.60h9.2M293.4 179.20h9.2" stroke="#000" stroke-width="0.8" fill="none"/>
<text x="306.7" y="180.5" font-size="13" text-anchor="start" textLength="16" lengthAdjust="spacingAndGlyphs">0.2</text>
<path d="M349.5 63.6l3.7 3.7l-3.7 3.7l-3.7 -3.7z" fill="#ffff00"/><path d="M349.5 66.4l0.9 0.9l-0.9 0.9l-0.9 -0.9z" fill="#fff"/>
<path d="M349.5 77.3l3.7 3.7l-3.7 3.7l-3.7 -3.7z" fill="#c0c0c0"/><path d="M349.5 80.1l0.9 0.9l-0.9 0.9l-0.9 -0.9z" fill="#fff"/>
<path d="M331 94.6H372" fill="none" stroke="#00ff00" stroke-width="1.8"/>
<path d="M331 108.4H372" fill="none" stroke="#a020f0" stroke-width="2.5" stroke-dasharray="2.6 0.9"/>
<path d="M331 122.2H372" fill="none" stroke="#0000ff" stroke-width="1.7" stroke-dasharray="1.6 1.5"/>
<path d="M331 136.0H372" fill="none" stroke="#ff0000" stroke-width="1.8" stroke-dasharray="2.1 0.4"/>
<path d="M331 149.8H372" fill="none" stroke="#00ffff" stroke-width="2" stroke-dasharray="4.3 1 1 1"/>
<path d="M331 163.6H372" fill="none" stroke="#ff00ff" stroke-width="2.5" stroke-dasharray="2.2 1.2 0.9 2.1"/>
<path d="M331 177.4H372" fill="none" stroke="#ffa500" stroke-width="1.6" stroke-dasharray="1.6 0.7 1.6 3.6"/>
</svg>
</body></html>
